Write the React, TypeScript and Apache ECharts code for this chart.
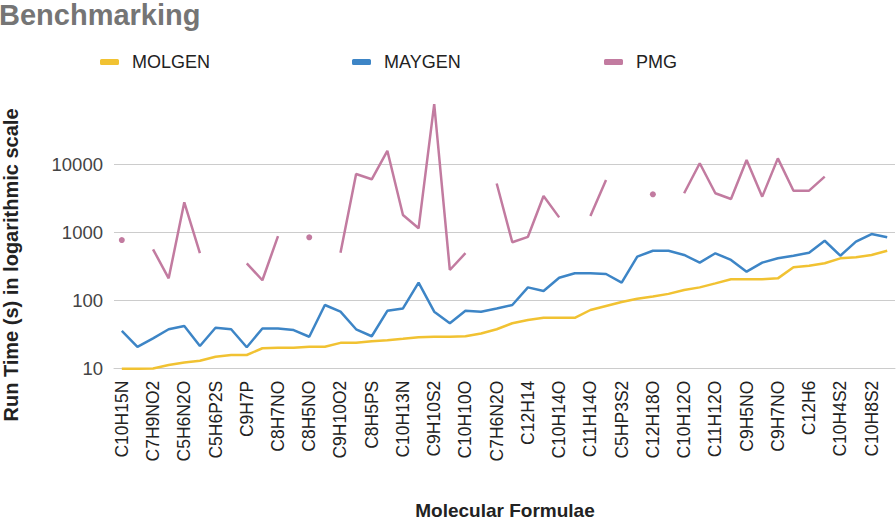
import React, { useEffect, useRef } from "react";
import * as echarts from "echarts";

// Category axis: only every other formula is printed in the reference; unreadable ones left blank
const categories: string[] = [
  "C10H15N", "", "C7H9NO2", "", "C5H6N2O", "", "C5H6P2S", "", "C9H7P", "",
  "C8H7NO", "", "C8H5NO", "", "C9H10O2", "", "C8H5PS", "", "C10H13N", "",
  "C9H10S2", "", "C10H10O", "", "C7H6N2O", "", "C12H14", "", "C10H14O", "",
  "C11H14O", "", "C5HP3S2", "", "C12H18O", "", "C10H12O", "", "C11H12O", "",
  "C9H5NO", "", "C9H7NO", "", "C12H6", "", "C10H4S2", "", "C10H8S2", "",
];

const molgen: number[] = [
  10, 10, 10.1, 11.3, 12.3, 13.1, 15, 15.9, 15.9, 20,
  20.4, 20.4, 21, 21, 24, 24, 25.3, 26.3, 27.6, 29,
  29.5, 29.5, 30, 33, 38, 46.6, 52, 56, 56, 56,
  73, 83.6, 95.6, 107, 115, 126, 144, 157, 180, 207,
  207, 207, 213, 310, 327, 355, 420, 435, 470, 543,
];

const maygen: number[] = [
  36, 21, 28, 38, 42.5, 21.6, 40, 38, 20.7, 39,
  39, 37, 29.5, 86.5, 69, 38, 30, 71, 77, 184,
  69, 46.6, 71, 69, 77, 86.5, 157, 139, 218, 253,
  253, 247, 184, 444, 543, 543, 470, 363, 498, 398,
  267, 363, 420, 459, 508, 762, 459, 738, 955, 855,
];

const pmg: (number | null)[] = [
  780, null, 570, 213, 2800, 500, null, null, 355, 200,
  890, null, 855, null, 508, 7300, 6100, 16000, 1820, 1160,
  78000, 283, 500, null, 5300, 723, 870, 3460, 1680, null,
  1760, 5960, null, null, 3670, null, 3800, 10500, 3800, 3130,
  11700, 3390, 12400, 4150, 4150, 6670, null, null, null, null,
];

const yTicks: number[] = [10, 100, 1000, 10000];

const FONT = "'Liberation Sans', Arial, sans-serif";
const COLORS = { MOLGEN: "#f1c232", MAYGEN: "#3d85c6", PMG: "#c27ba0" };

function toSeriesData(arr: (number | null)[]) {
  return arr.map((v, i) => {
    if (v === null) return "-";
    const prev = i > 0 ? arr[i - 1] : null;
    const next = i < arr.length - 1 ? arr[i + 1] : null;
    if (prev === null && next === null) {
      return { value: v, symbol: "circle", symbolSize: 6 };
    }
    return v;
  });
}

export default function App() {
  const ref = useRef<HTMLDivElement>(null);

  useEffect(() => {
    if (!ref.current) return;
    const chart = echarts.init(ref.current, null, { renderer: "svg" });

    const legendBase = {
      top: 53,
      padding: 0,
      itemWidth: 19,
      itemHeight: 6,
      icon: "roundRect",
      textStyle: { fontSize: 18, color: "#222", fontFamily: FONT, padding: [0, 0, 0, 8] },
    };

    const mkSeries = (name: keyof typeof COLORS, data: any[]) => ({
      name,
      type: "line",
      data,
      color: COLORS[name],
      lineStyle: { width: 2.5, color: COLORS[name] },
      itemStyle: { color: COLORS[name] },
      symbol: "none",
      showSymbol: true,
      showAllSymbol: true,
      connectNulls: false,
      emphasis: { disabled: true },
      silent: true,
    });

    chart.setOption({
      animation: false,
      title: {
        text: "Benchmarking",
        left: -1,
        top: 0,
        padding: 0,
        textStyle: { fontSize: 29, fontWeight: "bold", color: "#757575", fontFamily: FONT },
      },
      legend: [
        { ...legendBase, left: 100, data: ["MOLGEN"] },
        { ...legendBase, left: 352, data: ["MAYGEN"] },
        { ...legendBase, left: 604, data: ["PMG"] },
      ],
      grid: {
        left: 114,
        right: 1,
        top: 96.7,
        bottom: 151.3,
        containLabel: false,
        outerBoundsMode: "none",
      },
      xAxis: {
        type: "category",
        data: categories,
        boundaryGap: true,
        axisTick: { show: false },
        axisLine: { lineStyle: { color: "#cccccc", width: 1 } },
        axisLabel: {
          rotate: 90,
          interval: 1,
          fontSize: 17.5,
          color: "#222",
          fontFamily: FONT,
          margin: 12,
        },
      },
      yAxis: {
        type: "log",
        logBase: 10,
        min: 10,
        max: 100000,
        axisLine: { show: false },
        axisTick: { show: false },
        splitLine: { show: true, showMaxLine: false, lineStyle: { color: "#cccccc", width: 1 } },
        axisLabel: {
          fontSize: 18.5,
          color: "#444",
          fontFamily: FONT,
          margin: 11,
          formatter: (v: number) => {
            const r = Math.round(v);
            return yTicks.includes(r) ? String(r) : "";
          },
        },
      },
      graphic: [
        {
          type: "text",
          x: 11,
          y: 265,
          rotation: Math.PI / 2,
          style: {
            text: "Run Time (s) in logarithmic scale",
            fontSize: 20,
            fontWeight: "bold",
            fill: "#222",
            fontFamily: FONT,
            align: "center",
            verticalAlign: "middle",
          },
        },
        {
          type: "text",
          x: 505,
          y: 510,
          style: {
            text: "Molecular Formulae",
            fontSize: 19,
            fontWeight: "bold",
            fill: "#222",
            fontFamily: FONT,
            align: "center",
            verticalAlign: "middle",
          },
        },
      ],
      series: [
        mkSeries("MOLGEN", toSeriesData(molgen)),
        mkSeries("MAYGEN", toSeriesData(maygen)),
        mkSeries("PMG", toSeriesData(pmg)),
      ],
    });

    return () => chart.dispose();
  }, []);

  return (
    <div
      ref={ref}
      style={{ position: "fixed", left: 0, top: 0, width: 896, height: 520, background: "#fff" }}
    />
  );
}
